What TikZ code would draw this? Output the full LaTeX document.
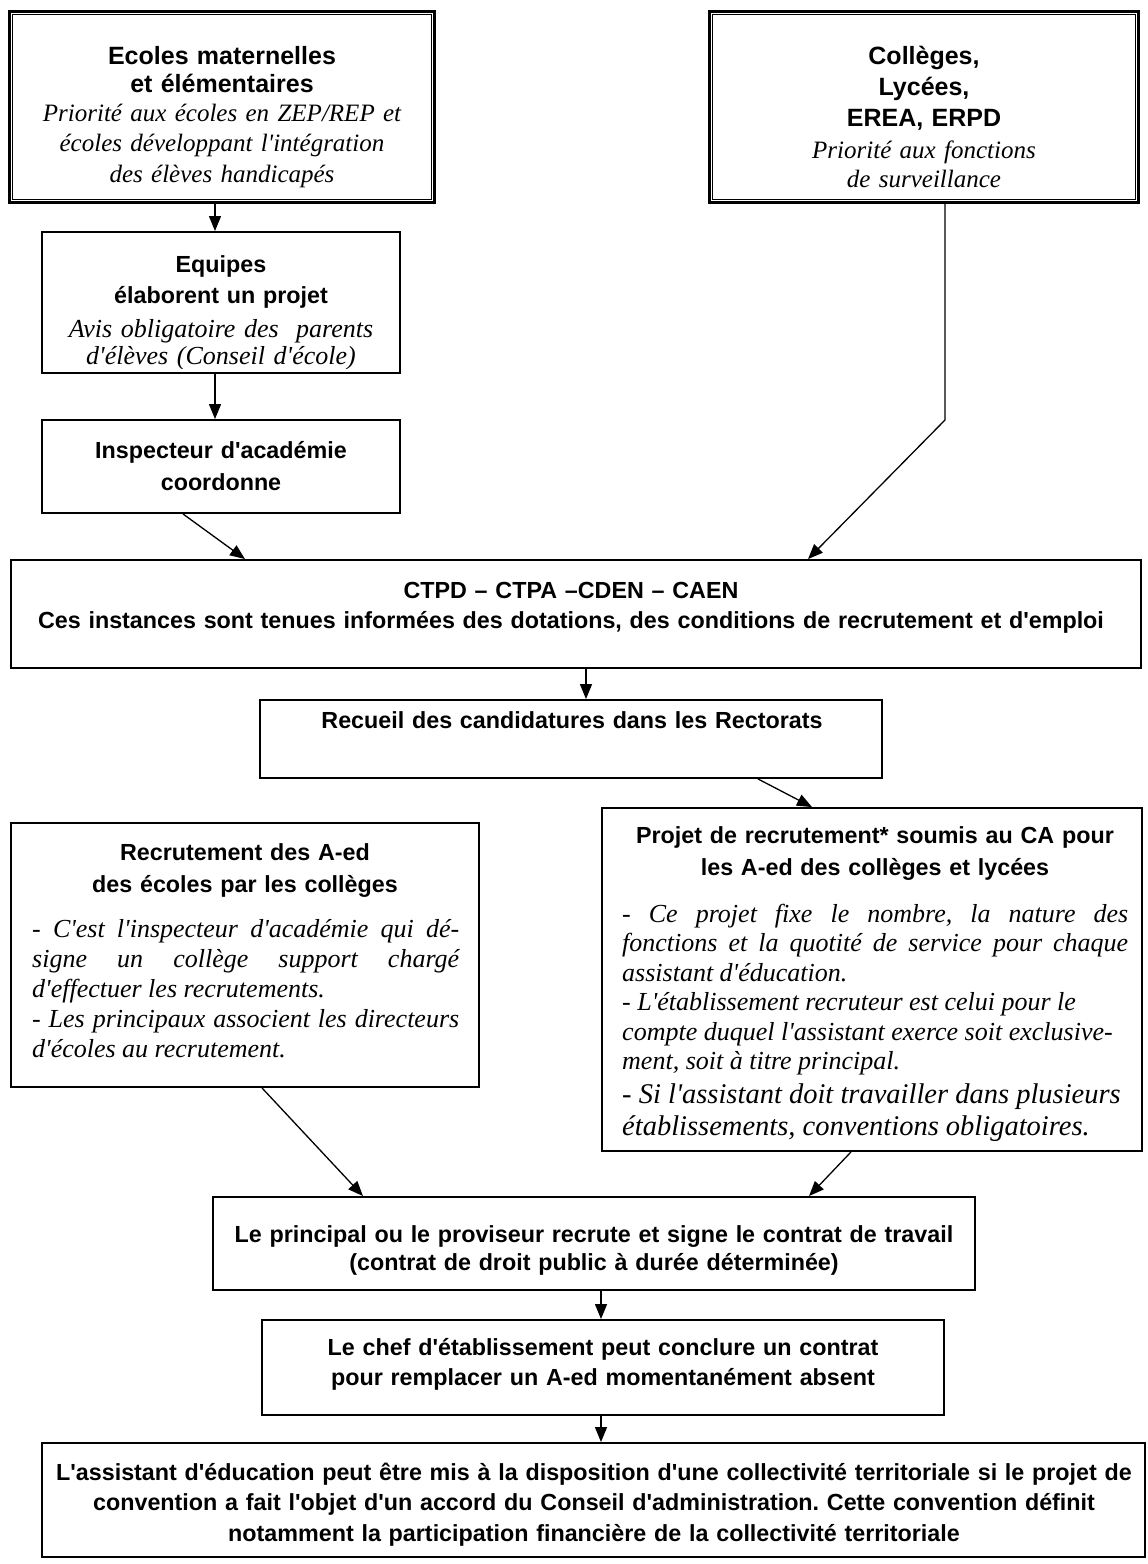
\documentclass[tikz,border=0pt]{standalone}
\usepackage{fontspec}
\newfontfamily\sansf{Liberation Sans}
\newfontfamily\seriff{Liberation Serif}
\usetikzlibrary{arrows.meta,calc}
\frenchspacing
\tikzset{
  frame/.style={draw, line width=1.9bp, rectangle, inner sep=0pt},
  dframe/.style={draw, line width=3bp, rectangle, inner sep=0pt},
  conn/.style={line width=1.3bp, -{Triangle[length=15bp,width=12bp]}},
  txt/.style={inner sep=0pt, execute at begin node={\frenchspacing\tolerance=10000\hbadness=10000\relax}},
  hd/.style={txt, anchor=base, align=center, font=\sansf\bfseries\fontsize{23.3bp}{31bp}\selectfont},
  hdbig/.style={txt, anchor=base, align=center, font=\sansf\bfseries\fontsize{25bp}{30bp}\selectfont},
  itc/.style={txt, anchor=base, align=center, font=\seriff\itshape\fontsize{25bp}{30bp}\selectfont},
  itj/.style={txt, anchor=base west, align=justify, font=\seriff\itshape\fontsize{26bp}{30bp}\selectfont},
}
\begin{document}
\begin{tikzpicture}[x=1bp,y=-1bp]
\fill[white] (0,0) rectangle (1147,1564);
\path[use as bounding box] (0,0) rectangle (1147,1564);

% top boxes (thick-thin double frame)
\node[dframe, minimum width=425bp, minimum height=191bp] (ecoles) at (222,107) {};
\draw[line width=1.2bp] ([shift={(4.5,4.5)}]ecoles.north west) rectangle ([shift={(-4.5,-4.5)}]ecoles.south east);
\node[hdbig, text width=415bp, font=\sansf\bfseries\fontsize{25bp}{28bp}\selectfont] (ecolesH) at (222,65) {Ecoles maternelles\\et élémentaires};
\node[itc, text width=415bp] (ecolesI) at (222,122) {Priorité aux écoles en ZEP/REP et\\écoles développant l'intégration\\des élèves handicapés};

\node[dframe, minimum width=429bp, minimum height=191bp] (colleges) at (924,107) {};
\draw[line width=1.2bp] ([shift={(4.5,4.5)}]colleges.north west) rectangle ([shift={(-4.5,-4.5)}]colleges.south east);
\node[hdbig, text width=415bp, font=\sansf\bfseries\fontsize{25bp}{31bp}\selectfont] (collegesH) at (924,65) {Collèges,\\Lycées,\\EREA, ERPD};
\node[itc, text width=415bp, font=\seriff\itshape\fontsize{25bp}{29bp}\selectfont] (collegesI) at (924,158) {Priorité aux fonctions\\de surveillance};

% left column
\node[frame, minimum width=358bp, minimum height=141bp] (equipes) at (221,302.5) {};
\node[hd, text width=350bp] (equipesH) at (221,272) {Equipes\\élaborent un projet};
\begin{scope}
\clip (44,300) rectangle (398,368);
\node[itc, text width=350bp, font=\seriff\itshape\fontsize{26bp}{27bp}\selectfont] (equipesI) at (221,337) {Avis obligatoire des~ parents\\d'élèves (Conseil d'école)};
\end{scope}

\node[frame, minimum width=358bp, minimum height=93bp] (inspecteur) at (221,466.5) {};
\node[hd, text width=350bp, font=\sansf\bfseries\fontsize{23.3bp}{32bp}\selectfont] (inspecteurH) at (221,458) {Inspecteur d'académie\\coordonne};

% CTPD
\node[frame, minimum width=1130bp, minimum height=108bp] (ctpd) at (576,614) {};
\node[hd, text width=1120bp, font=\sansf\bfseries\fontsize{23.3bp}{30bp}\selectfont] (ctpdT) at (571,598) {CTPD – CTPA –CDEN – CAEN\\Ces instances sont tenues informées des dotations, des conditions de recrutement et d'emploi};

% Recueil
\node[frame, minimum width=622bp, minimum height=78bp] (recueil) at (571,739) {};
\node[hd, text width=610bp] (recueilT) at (572,728) {Recueil des candidatures dans les Rectorats};

% Recrutement
\node[frame, minimum width=468bp, minimum height=264bp] (recrut) at (245,955) {};
\node[hd, text width=450bp, font=\sansf\bfseries\fontsize{23.3bp}{32bp}\selectfont] (recrutH) at (245,860) {Recrutement des A-ed\\des écoles par les collèges};
\node[itj, text width=427bp] (recrutI) at (32,937) {- C'est l'inspecteur d'académie qui dé-\linebreak signe un collège support chargé\linebreak d'effectuer les recrutements.\\- Les principaux associent les directeurs\linebreak d'écoles au recrutement.};

% Projet
\node[frame, minimum width=540bp, minimum height=343bp] (projet) at (872,979.5) {};
\node[hd, text width=530bp, font=\sansf\bfseries\fontsize{23.3bp}{32bp}\selectfont] (projetH) at (875,843) {Projet de recrutement* soumis au CA pour\\les A-ed des collèges et lycées};
\node[itj, text width=506bp, font=\seriff\itshape\fontsize{26bp}{29.5bp}\selectfont] (projetI) at (622,922) {- Ce projet fixe le nombre, la nature des\linebreak fonctions et la quotité de service pour chaque\linebreak assistant d'éducation.\\- L'établissement recruteur est celui pour le\\compte duquel l'assistant exerce soit exclusive-\\ment, soit à titre principal.};
\node[itj, text width=510bp, font=\seriff\itshape\fontsize{28.5bp}{32bp}\selectfont] (projetI2) at (622,1103) {- Si l'assistant doit travailler dans plusieurs\\établissements, conventions obligatoires.};

% Principal
\node[frame, minimum width=762bp, minimum height=93bp] (principal) at (594,1243.5) {};
\node[hd, text width=750bp, font=\sansf\bfseries\fontsize{23.3bp}{28bp}\selectfont] (principalT) at (594,1242) {Le principal ou le proviseur recrute et signe le contrat de travail\\(contrat de droit public à durée déterminée)};

% Chef
\node[frame, minimum width=682bp, minimum height=95bp] (chef) at (603,1367.5) {};
\node[hd, text width=670bp, font=\sansf\bfseries\fontsize{23.3bp}{30bp}\selectfont] (chefT) at (603,1355) {Le chef d'établissement peut conclure un contrat\\pour remplacer un A-ed momentanément absent};

% Final
\node[frame, minimum width=1103bp, minimum height=114bp] (final) at (593.5,1500) {};
\node[hd, text width=1095bp, font=\sansf\bfseries\fontsize{23.3bp}{30.5bp}\selectfont] (finalT) at (594,1480) {L'assistant d'éducation peut être mis à la disposition d'une collectivité territoriale si le projet de\\convention a fait l'objet d'un accord du Conseil d'administration. Cette convention définit\\notamment la participation financière de la collectivité territoriale};

% connectors
\coordinate (bend) at (945,420);
\draw[conn] ([xshift=-7bp]ecoles.south) -- ([xshift=-7bp]ecoles.south |- equipes.north);
\draw[conn] ([xshift=-6bp]equipes.south) -- ([xshift=-6bp]equipes.south |- inspecteur.north);
\draw[conn] ([xshift=-38bp]inspecteur.south) -- ([xshift=-331bp]ctpd.north);
\draw[conn] (colleges.south -| bend) -- (bend) -- ([xshift=232bp]ctpd.north);
\draw[conn] ([xshift=10bp]ctpd.south) -- ([xshift=10bp]ctpd.south |- recueil.north);
\draw[conn] ([xshift=187bp]recueil.south) -- ([xshift=-60bp]projet.north);
\draw[conn] ([xshift=17bp]recrut.south) -- ([xshift=-231bp]principal.north);
\draw[conn] ([xshift=-21bp]projet.south) -- ([xshift=215bp]principal.north);
\draw[conn] ([xshift=7bp]principal.south) -- ([xshift=7bp]principal.south |- chef.north);
\draw[conn] ([xshift=-2bp]chef.south) -- ([xshift=-2bp]chef.south |- final.north);
\end{tikzpicture}
\end{document}
